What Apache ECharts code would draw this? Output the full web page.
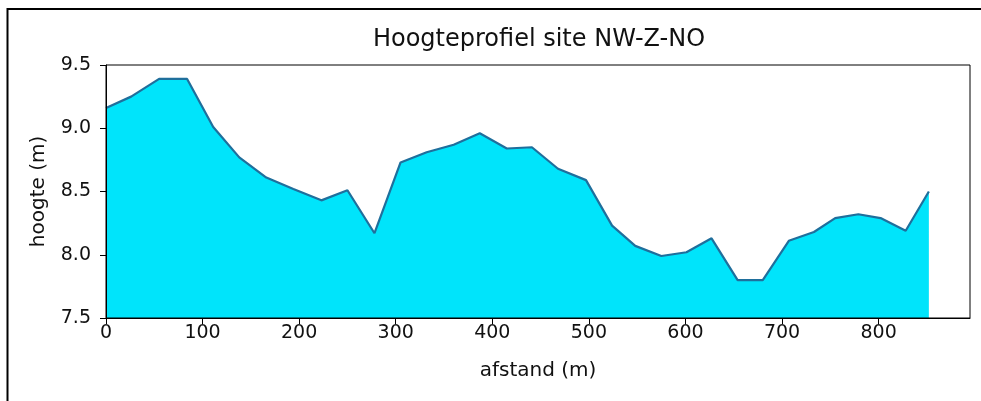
<!DOCTYPE html>
<html>
<head>
<meta charset="utf-8">
<script src="https://cdn.jsdelivr.net/npm/echarts@6/dist/echarts.min.js"></script>
<style>
html,body{margin:0;padding:0;background:#fff;}
#chart{width:981px;height:401px;}
</style>
</head>
<body>
<div id="chart"></div>
<script>
// distance along the profile (m)
var afstand = [0, 26, 55, 84, 111, 138, 166, 194, 223, 250, 278, 305, 332, 360, 387, 415, 441, 468, 497, 524, 548, 575, 601, 627, 654, 680, 707, 733, 755, 779, 802, 828, 852];
// elevation (m)
var hoogte = [9.16, 9.25, 9.39, 9.39, 9.01, 8.77, 8.61, 8.52, 8.43, 8.51, 8.17, 8.73, 8.81, 8.87, 8.96, 8.84, 8.85, 8.68, 8.59, 8.23, 8.07, 7.99, 8.02, 8.13, 7.80, 7.80, 8.11, 8.18, 8.29, 8.32, 8.29, 8.19, 8.50];
var xTicks = [0, 100, 200, 300, 400, 500, 600, 700, 800];
var yTicks = [7.5, 8.0, 8.5, 9.0, 9.5];
var titleText = 'Hoogteprofiel site NW-Z-NO';
var xName = 'afstand (m)';
var yName = 'hoogte (m)';

var pts = afstand.map(function (d, i) { return [d, hoogte[i]]; });
var font = 'DejaVu Sans';
var chart = echarts.init(document.getElementById('chart'), null, {renderer: 'canvas'});
chart.setOption({
  animation: false,
  backgroundColor: '#fff',
  title: {
    text: titleText,
    left: 539, top: 28, textAlign: 'center', padding: 0,
    textStyle: {fontFamily: font, fontSize: 24, fontWeight: 'normal', color: '#111'}
  },
  grid: {left: 106, right: 11, top: 65, bottom: 83, show: true, borderColor: '#000', borderWidth: 1, backgroundColor: 'transparent', z: 6},
  xAxis: {
    type: 'value', min: 0, max: 894.6, interval: 100, z: 6,
    name: xName, nameLocation: 'middle', nameGap: 43,
    nameTextStyle: {fontFamily: font, fontSize: 20, color: '#111'},
    axisLine: {show: true, lineStyle: {color: '#000', width: 1}},
    axisTick: {show: true, length: 6, lineStyle: {color: '#000'}, customValues: xTicks},
    axisLabel: {fontFamily: font, fontSize: 19, color: '#111', margin: 6, customValues: xTicks},
    splitLine: {show: false}
  },
  yAxis: {
    type: 'value', min: 7.5, max: 9.5, interval: 0.5, z: 6,
    name: yName, nameLocation: 'middle', nameGap: 57, nameRotate: 90,
    nameTextStyle: {fontFamily: font, fontSize: 20, color: '#111'},
    axisLine: {show: true, lineStyle: {color: '#000', width: 1}},
    axisTick: {show: true, length: 6, lineStyle: {color: '#000'}, customValues: yTicks},
    axisLabel: {fontFamily: font, fontSize: 19, color: '#111', margin: 15, customValues: yTicks,
      formatter: function (v) { return Number(v).toFixed(1); }},
    splitLine: {show: false}
  },
  series: [{
    type: 'line', data: pts, symbol: 'none', smooth: false,
    lineStyle: {color: '#1f6f9c', width: 2.2},
    areaStyle: {color: '#00E4FB', opacity: 1, origin: 'start'},
    z: 1
  }],
  graphic: [{
    type: 'rect', silent: true,
    shape: {x: 7.5, y: 9, width: 1200, height: 800},
    style: {fill: 'none', stroke: '#000', lineWidth: 2}
  }]
});
</script>
</body>
</html>
